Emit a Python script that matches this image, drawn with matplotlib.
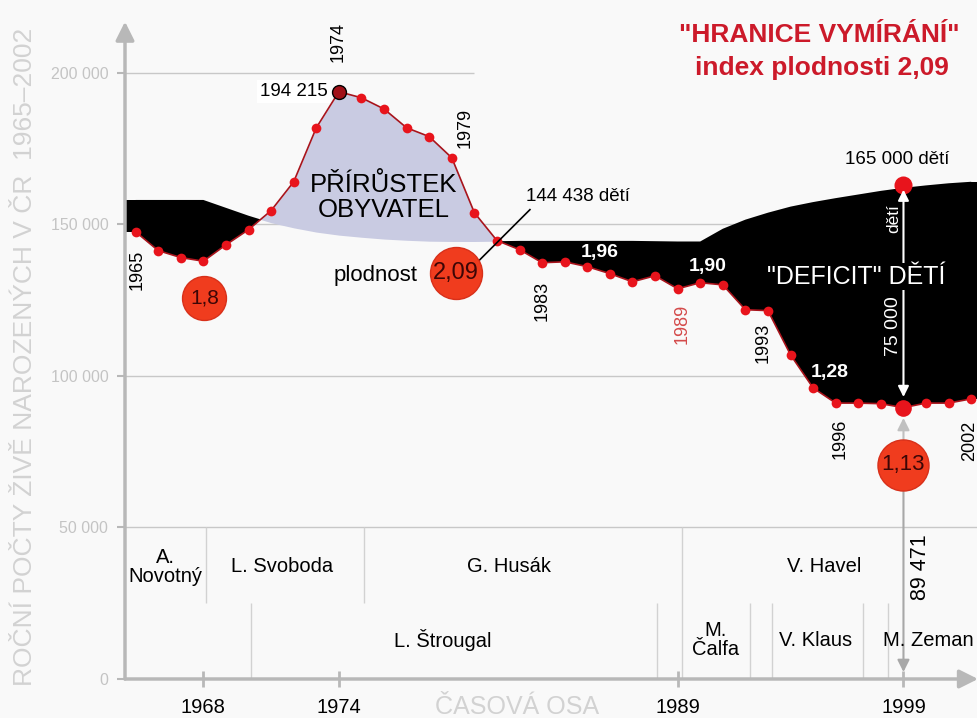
import matplotlib.pyplot as plt
import numpy as np

plt.rcParams["font.family"] = ["Liberation Sans", "DejaVu Sans"]

# --- Data ---
years = list(range(1965, 2003))
births = [147500, 141300, 139000, 137800, 143200, 148200, 154500, 164000, 181800, 193700,
          191700, 188000, 181800, 178900, 171900, 153800, 144600, 141600, 137300, 137600,
          136000, 133700, 131000, 133000, 128700, 130700, 130000, 121800, 121500, 106900,
          96000, 91000, 91000, 90800, 89500, 91000, 91000, 92400]
# births needed for fertility index 2,09 ("hranice vymirani")
replacement = [158000, 158000, 158000, 158000, 155400, 152800, 150500, 148800, 147400, 146400,
               145700, 145100, 144700, 144400, 144300, 144300, 144400, 144500, 144500, 144500,
               144500, 144500, 144500, 144400, 144300, 144300, 148500, 151500, 153800, 155800,
               157300, 158600, 159800, 161000, 162000, 162800, 163500, 164000]
target_year = 1999
target_births = 163000

y_ticks = [0, 50000, 100000, 150000, 200000]
y_tick_labels = ["0", "50 000", "100 000", "150 000", "200 000"]
x_ticks = [1968, 1974, 1989, 1999]

presidents = ["A.\nNovotný", "L. Svoboda", "G. Husák", "V. Havel"]
president_ends = [1968.1, 1975.1]
premiers = ["L. Štrougal", "M.\nČalfa", "V. Klaus", "M. Zeman"]
premier_ends = [1970.1, 1988.1, 1992.2, 1993.2, 1997.2, 1998.3]
revolution = 1989.2

# --- Colours ---
RED = "#e8141c"
BADGE = "#f03c1e"
GRID = "#c8c8c8"
AXIS = "#b8b8b8"
LIGHT = "#d2d2d2"

fig = plt.figure(figsize=(9.78, 7.18), dpi=100, facecolor="#f9f9f9")
ax = fig.add_axes([125 / 978, 39 / 718, 853 / 978, 664 / 718])
ax.set_facecolor("#f9f9f9")
x0, x1 = 1964.53, 2002.3
ax.set_xlim(x0, x1)
ax.set_ylim(0, 219000)
for s in ax.spines.values():
    s.set_visible(False)

# grid lines
for v in y_ticks[1:-1]:
    ax.axhline(v, color=GRID, lw=1, zorder=0)
ax.hlines(y_ticks[-1], x0, 1980, color=GRID, lw=1, zorder=0)

# axes with arrows
ax.annotate("", xy=(0, 0.99), xytext=(0, 0), xycoords="axes fraction",
            arrowprops=dict(arrowstyle="-|>", color=AXIS, lw=2.5, mutation_scale=28,
                            shrinkA=0, shrinkB=0), zorder=2)
ax.annotate("", xy=(1.0, 0), xytext=(0, 0), xycoords="axes fraction",
            arrowprops=dict(arrowstyle="-|>", color=AXIS, lw=2.5, mutation_scale=28,
                            shrinkA=0, shrinkB=0), zorder=2)

ax.set_yticks(y_ticks)
ax.set_yticklabels(y_tick_labels)
ax.tick_params(axis="y", colors=AXIS, labelcolor="#c4c4c4", labelsize=11.5,
               length=6, width=1.5, pad=6)
ax.set_xticks(x_ticks)
ax.set_xticklabels([str(x) for x in x_ticks])
ax.tick_params(axis="x", colors=AXIS, labelcolor="black", labelsize=14.5,
               direction="inout", length=12, width=2, pad=8)

# deficit / surplus areas
b = np.array(births)
r = np.array(replacement)
ax.fill_between(years, births, replacement, where=r >= b, interpolate=True,
                color="black", lw=0, zorder=1)
ax.fill_between(years, births, replacement, where=b >= r, interpolate=True,
                color="#c9cbe2", lw=0, zorder=1)
# black area continues to the axis edges
ax.fill_between([x0, years[0]], [births[0]] * 2, [replacement[0]] * 2, color="black", lw=0, zorder=1)
ax.fill_between([years[-1], x1], [births[-1]] * 2, [replacement[-1]] * 2, color="black", lw=0, zorder=1)

# births line with dots
ax.plot(years, births, color="#a8141c", lw=1.2, zorder=3)
ax.plot(years, births, "o", color=RED, ms=7, mec="none", zorder=4)
peak = int(np.argmax(b))
ax.plot(years[peak], births[peak], "o", color="#a01018", ms=10, mec="black", mew=1, zorder=5)
low = years.index(target_year)
ax.plot(years[low], births[low], "o", color=RED, ms=12, mec="none", zorder=5)
ax.plot(target_year, target_births, "o", color=RED, ms=13, mec="none", zorder=5)

# rotated year labels
for yr, val, txt, col in [(1973.95, 210000, "1974", "black"), (1979.6, 181800, "1979", "black"),
                          (1965.07, 135000, "1965", "black"), (1983.0, 124800, "1983", "black"),
                          (1989.2, 117200, "1989", "#d44a4a"), (1992.8, 110900, "1993", "black"),
                          (1996.2, 79200, "1996", "black"), (2001.95, 78500, "2002", "black")]:
    ax.text(yr, val, txt, rotation=90, ha="center", va="center", fontsize=13, color=col, zorder=6)

# labels in the chart
ax.text(1973.5, 193700, "194 215", ha="right", va="center", fontsize=13.5, zorder=6,
        bbox=dict(facecolor="white", edgecolor="none", pad=2))
ax.text(1976.0, 158700, "PŘÍRŮSTEK\nOBYVATEL", ha="center", va="center", fontsize=18.5,
        linespacing=1.05, zorder=6)
ax.plot([1980.15, 1982.46], [137600, 154800], color="black", lw=1.2, zorder=5)
ax.text(1982.3, 159000, "144 438 dětí", ha="left", va="center", fontsize=13.5, zorder=6)
ax.text(1977.5, 133000, "plodnost", ha="right", va="center", fontsize=16, zorder=6)
ax.text(1998.7, 171300, "165 000 dětí", ha="center", va="center", fontsize=13.5, zorder=6)

for yr, val, txt in [(1985.55, 140600, "1,96"), (1990.33, 136000, "1,90"), (1995.73, 101000, "1,28")]:
    ax.text(yr, val, txt, ha="center", va="center", fontsize=14, fontweight="bold",
            color="white", zorder=6)

ax.text(1996.9, 132700, "\"DEFICIT\" DĚTÍ", ha="center", va="center", fontsize=18,
        color="white", zorder=7,
        bbox=dict(facecolor="black", edgecolor="none", pad=1))

# 75 000 children arrow
ax.annotate("", xy=(target_year, 161400), xytext=(target_year, 93000),
            arrowprops=dict(arrowstyle="<|-|>", color="white", lw=1.5, mutation_scale=16,
                            shrinkA=0, shrinkB=0), zorder=6)
ax.text(1998.55, 152000, "dětí", rotation=90, ha="center", va="center", fontsize=12.5,
        color="white", zorder=6)
ax.text(1998.55, 116500, "75 000", rotation=90, ha="center", va="center", fontsize=14,
        color="white", zorder=6)

# fertility badges
for yr, val, txt, size, fs in [(1968.05, 125700, "1,8", 1000, 15), (1979.2, 134000, "2,09", 1400, 17),
                               (target_year, 70600, "1,13", 1350, 16)]:
    ax.scatter(yr, val, s=size, color=BADGE, edgecolor="#d8301a", lw=1, zorder=6)
    ax.text(yr, val, txt, ha="center", va="center", fontsize=fs, color="#3c0606", zorder=7)

ax.annotate("", xy=(target_year, 86100), xytext=(target_year, 78000),
            arrowprops=dict(arrowstyle="-|>", color="#c0c0c0", lw=1.5, mutation_scale=18,
                            shrinkA=0, shrinkB=0), zorder=5)
ax.annotate("", xy=(target_year, 2300), xytext=(target_year, 62400),
            arrowprops=dict(arrowstyle="-|>", color="#a8a8a8", lw=1.5, mutation_scale=18,
                            shrinkA=0, shrinkB=0), zorder=5)
ax.text(1999.75, 37000, "89 471", rotation=90, ha="center", va="center", fontsize=15.5, zorder=6)

# political periods
for x in president_ends:
    ax.vlines(x, 25000, 50000, color=LIGHT, lw=1, zorder=1)
for x in premier_ends:
    ax.vlines(x, 0, 25000, color=LIGHT, lw=1, zorder=1)
ax.vlines(revolution, 0, 50000, color=LIGHT, lw=1, zorder=1)

for x, txt in zip([1966.3, 1971.5, 1981.55, 1995.5], presidents):
    ax.text(x, 37000, txt, ha="center", va="center", fontsize=14.5, linespacing=1.0, zorder=6)
for x, txt in zip([1978.6, 1990.7, 1995.1, 2000.1], premiers):
    ax.text(x, 12700, txt, ha="center", va="center", fontsize=14.5, linespacing=1.0, zorder=6)

# titles and axis captions
fig.text(0.838, 0.951, "\"HRANICE VYMÍRÁNÍ\"", ha="center", va="center", fontsize=19,
         fontweight="bold", color="#cc1a2a")
fig.text(0.840, 0.905, "index plodnosti 2,09", ha="center", va="center", fontsize=19,
         fontweight="bold", color="#cc1a2a")
fig.text(25 / 978, 0.503, "ROČNÍ POČTY ŽIVĚ NAROZENÝCH V ČR  1965–2002", rotation=90,
         ha="center", va="center", fontsize=19, color=LIGHT)
fig.text(517 / 978, 1 - 707 / 718, "ČASOVÁ OSA", ha="center", va="center", fontsize=18,
         color=LIGHT)

fig.savefig("out.png", dpi=100, facecolor=fig.get_facecolor())
